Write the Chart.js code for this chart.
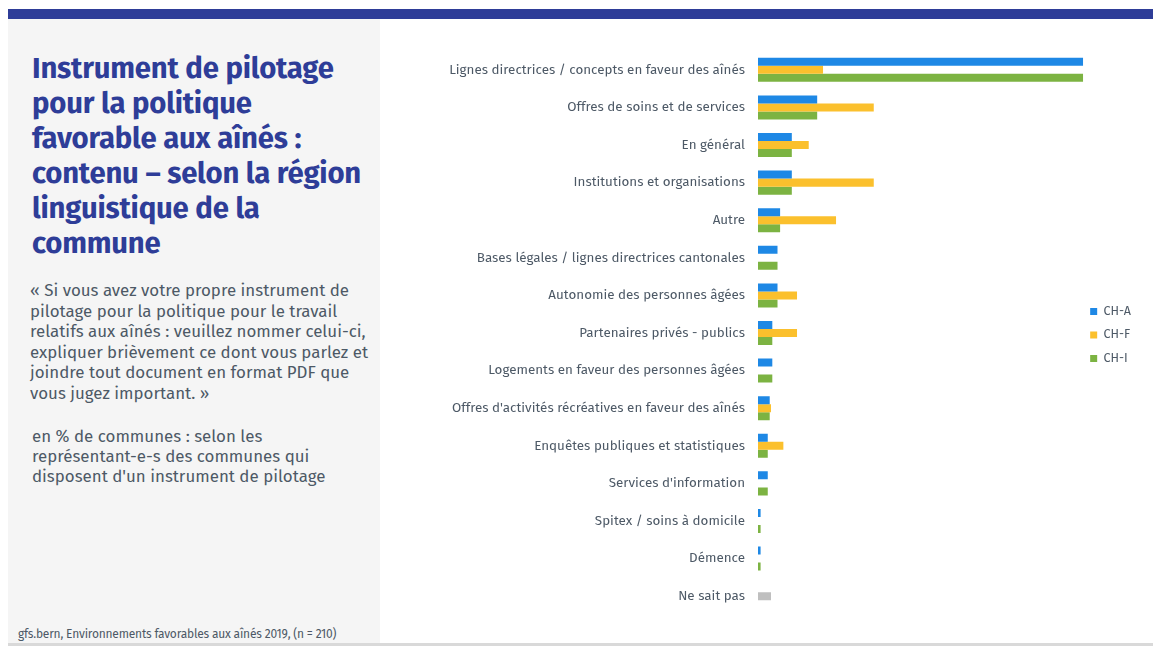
<!DOCTYPE html>
<html>
<head>
<meta charset="utf-8">
<script src="https://cdn.jsdelivr.net/npm/chart.js@4"></script>
<style>
  html, body { margin: 0; padding: 0; background: #fff; }
  body { width: 1153px; height: 646px; position: relative; overflow: hidden; font-family: "Fira Sans", "Noto Sans", sans-serif; }
  #topbar { position: absolute; left: 8px; top: 9px; width: 1145px; height: 10px; background: #2e3d98; }
  #panel { position: absolute; left: 8px; top: 19px; width: 372px; height: 624px; background: #f5f5f5; }
  #bottomline { position: absolute; left: 8px; top: 643px; width: 1145px; height: 3px; background: #d9d9d9; }
  #title { position: absolute; left: 32px; top: 51px; font-size: 29.3px; line-height: 35px; font-weight: 700; color: #2e3d98; letter-spacing: -0.2px; white-space: nowrap; }
  #quote { position: absolute; left: 30px; top: 280px; font-size: 16.9px; line-height: 20.5px; color: #4d5966; white-space: nowrap; }
  #note { position: absolute; left: 32px; top: 426px; font-size: 16.9px; line-height: 20px; color: #4d5966; white-space: nowrap; }
  #source { position: absolute; left: 18px; top: 627px; font-size: 12px; color: #4d5966; letter-spacing: -0.2px; white-space: nowrap; }
  #wrap { position: absolute; left: 390px; top: 30px; width: 755px; height: 606px; }
</style>
</head>
<body>
<div id="topbar"></div>
<div id="panel"></div>
<div id="bottomline"></div>
<div id="title">Instrument de pilotage<br>pour la politique<br>favorable aux aînés :<br>contenu – selon la région<br>linguistique de la<br>commune</div>
<div id="quote">« Si vous avez votre propre instrument de<br>pilotage pour la politique pour le travail<br>relatifs aux aînés : veuillez nommer celui-ci,<br>expliquer brièvement ce dont vous parlez et<br>joindre tout document en format PDF que<br>vous jugez important. »</div>
<div id="note">en % de communes : selon les<br>représentant-e-s des communes qui<br>disposent d'un instrument de pilotage</div>
<div id="source">gfs.bern, Environnements favorables aux aînés 2019, (n = 210)</div>
<div id="wrap"><canvas id="c"></canvas></div>
<script>
const categories = [
  "Lignes directrices / concepts en faveur des aînés",
  "Offres de soins et de services",
  "En général",
  "Institutions et organisations",
  "Autre",
  "Bases légales / lignes directrices cantonales",
  "Autonomie des personnes âgées",
  "Partenaires privés - publics",
  "Logements en faveur des personnes âgées",
  "Offres d'activités récréatives en faveur des aînés",
  "Enquêtes publiques et statistiques",
  "Services d'information",
  "Spitex / soins à domicile",
  "Démence",
  "Ne sait pas"
];
const seriesNames = ["CH-A", "CH-F", "CH-I"];
const chA = [50, 9.1, 5.2, 5.2, 3.4, 3.0, 3.0, 2.2, 2.2, 1.8, 1.5, 1.5, 0.4, 0.4, 0];
const chF = [10, 17.8, 7.8, 17.8, 12, 0, 6, 6, 0, 2, 3.9, 0, 0, 0, 2];
const chI = [50, 9.1, 5.2, 5.2, 3.4, 3.0, 3.0, 2.2, 2.2, 1.8, 1.5, 1.5, 0.4, 0.4, 0];

const BLUE = "#1e88e5", YELLOW = "#fbc02d", GREEN = "#7cb342", GREY = "#bfbfbf";
const yellowColors = categories.map(c => c === "Ne sait pas" ? GREY : YELLOW);
const FONT = "Fira Sans, Noto Sans, sans-serif";

const legendShift = {
  id: "legendShift",
  afterLayout(chart) {
    const lg = chart.legend;
    if (lg) { lg.left -= 4; lg.right -= 4; lg.top -= 8; lg.bottom -= 8; }
  }
};

new Chart(document.getElementById("c"), {
  type: "bar",
  data: {
    labels: categories,
    datasets: [
      { label: seriesNames[0], data: chA, backgroundColor: BLUE },
      { label: seriesNames[1], data: chF, backgroundColor: yellowColors },
      { label: seriesNames[2], data: chI, backgroundColor: GREEN }
    ]
  },
  plugins: [legendShift],
  options: {
    indexAxis: "y",
    responsive: true,
    maintainAspectRatio: false,
    animation: false,
    layout: { padding: { top: 20, bottom: 0, right: 0, left: 0 } },
    datasets: { bar: { categoryPercentage: 0.64, barPercentage: 1.0, borderWidth: 0 } },
    scales: {
      x: { min: 0, max: 50, display: false, grid: { display: false } },
      y: {
        grid: { display: false, drawTicks: false },
        border: { display: false },
        afterFit: (scale) => { scale.width = 368; },
        ticks: { color: "#4d5966", font: { family: FONT, size: 13.4 }, padding: 13 }
      }
    },
    plugins: {
      legend: {
        position: "right",
        labels: {
          color: "#4d5966",
          font: { family: FONT, size: 12.5 },
          boxWidth: 7, boxHeight: 7, padding: 11,
          generateLabels: (chart) => chart.data.datasets.map((ds, i) => ({
            text: ds.label,
            fillStyle: [BLUE, YELLOW, GREEN][i],
            strokeStyle: [BLUE, YELLOW, GREEN][i],
            lineWidth: 0,
            datasetIndex: i,
            fontColor: "#4d5966"
          }))
        }
      },
      tooltip: { enabled: false }
    }
  }
});
</script>
</body>
</html>
